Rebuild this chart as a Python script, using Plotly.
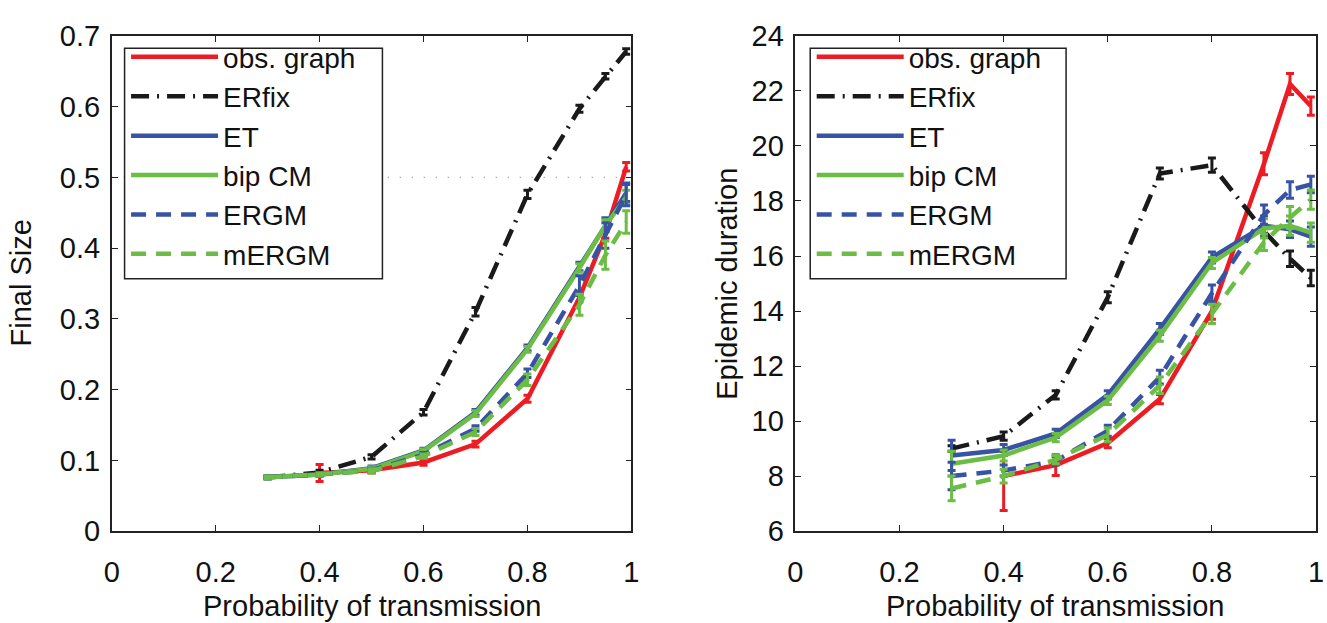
import plotly.graph_objects as go

# ---------------- data ----------------
p_all = [0.3, 0.4, 0.5, 0.6, 0.7, 0.8, 0.9, 0.95, 0.99]
p_obs = [0.4, 0.5, 0.6, 0.7, 0.8, 0.9, 0.95, 0.99]

# Final size (left panel)
fs_obs = [0.082, 0.086, 0.097, 0.123, 0.187, 0.33, 0.42, 0.515]
fs_obs_err = [0.012, 0.004, 0.004, 0.004, 0.005, 0.006, 0.006, 0.006]
fs_erfix = [0.076, 0.083, 0.105, 0.168, 0.31, 0.476, 0.597, 0.643, 0.678]
fs_erfix_err = [0.002, 0.003, 0.003, 0.004, 0.006, 0.006, 0.005, 0.004, 0.004]
fs_et = [0.076, 0.080, 0.089, 0.114, 0.168, 0.259, 0.374, 0.433, 0.478]
fs_et_err = [0.002, 0.002, 0.003, 0.003, 0.004, 0.004, 0.006, 0.010, 0.012]
fs_bip = [0.076, 0.080, 0.088, 0.113, 0.166, 0.257, 0.372, 0.432, 0.472]
fs_bip_err = [0.002, 0.002, 0.003, 0.003, 0.004, 0.004, 0.006, 0.008, 0.010]
fs_ergm = [0.076, 0.080, 0.086, 0.108, 0.145, 0.223, 0.347, 0.418, 0.476]
fs_ergm_err = [0.002, 0.002, 0.003, 0.003, 0.004, 0.006, 0.014, 0.018, 0.016]
fs_mergm = [0.076, 0.080, 0.085, 0.106, 0.140, 0.214, 0.320, 0.390, 0.437]
fs_mergm_err = [0.002, 0.002, 0.003, 0.003, 0.005, 0.008, 0.015, 0.020, 0.016]

# Epidemic duration (right panel)
ed_obs = [8.0, 8.4, 9.2, 10.8, 14.0, 19.35, 22.25, 21.45]
ed_obs_up = [0.9, 0.38, 0.17, 0.17, 0.3, 0.4, 0.38, 0.33]
ed_obs_dn = [1.25, 0.38, 0.17, 0.17, 0.3, 0.4, 0.38, 0.33]
ed_erfix = [9.0, 9.45, 10.95, 14.5, 19.0, 19.3, 16.9, 15.9, 15.2]
ed_erfix_err = [0.1, 0.15, 0.15, 0.2, 0.2, 0.26, 0.2, 0.28, 0.28]
ed_et = [8.75, 8.95, 9.55, 10.95, 13.35, 15.95, 17.1, 16.97, 16.7]
ed_et_err = [0.55, 0.2, 0.15, 0.15, 0.2, 0.2, 0.35, 0.3, 0.35]
ed_bip = [8.45, 8.75, 9.4, 10.75, 13.1, 15.75, 17.0, 17.1, 16.85]
ed_bip_err = [0.45, 0.2, 0.15, 0.15, 0.2, 0.2, 0.35, 0.35, 0.35]
ed_ergm = [8.0, 8.2, 8.55, 9.65, 11.6, 14.65, 17.5, 18.4, 18.6]
ed_ergm_err = [0.5, 0.2, 0.15, 0.2, 0.25, 0.3, 0.35, 0.3, 0.3]
ed_mergm = [7.55, 8.0, 8.6, 9.5, 11.3, 13.9, 16.5, 17.4, 18.05]
ed_mergm_err = [0.45, 0.25, 0.15, 0.25, 0.3, 0.35, 0.3, 0.4, 0.35]

x_ticks = [0, 0.2, 0.4, 0.6, 0.8, 1]
x_ticktext = ["0", "0.2", "0.4", "0.6", "0.8", "1"]
fs_ticks = [0, 0.1, 0.2, 0.3, 0.4, 0.5, 0.6, 0.7]
fs_ticktext = ["0", "0.1", "0.2", "0.3", "0.4", "0.5", "0.6", "0.7"]
ed_ticks = [6, 8, 10, 12, 14, 16, 18, 20, 22, 24]
ed_ticktext = [str(v) for v in ed_ticks]

names = ["obs. graph", "ERfix", "ET", "bip CM", "ERGM", "mERGM"]

# ---------------- styles ----------------
RED = "#ED1C24"
BLACK = "#1A1A1A"
BLUE = "#3853A4"
GREEN = "#6BBD45"
DASH = "15px,10px"
DASHDOT = "18px,8px,2px,8px"
LW = 4.5
FONT = "Liberation Sans, Arial, Helvetica, sans-serif"
AXC = "#222222"
TXT = "#111111"
FS = 29

styles = [
    (RED, "solid"),
    (BLACK, DASHDOT),
    (BLUE, "solid"),
    (GREEN, "solid"),
    (BLUE, DASH),
    (GREEN, DASH),
]

fig = go.Figure()

# reference dotted line at 0.5 (left panel)
fig.add_trace(go.Scatter(x=[0, 0.99], y=[0.5, 0.5], mode="lines",
                         line=dict(color="#7F8FC8", width=1.2, dash="1px,11px"),
                         showlegend=False, hoverinfo="skip", xaxis="x", yaxis="y"))

left_series = [
    (p_obs, fs_obs, fs_obs_err, fs_obs_err),
    (p_all, fs_erfix, fs_erfix_err, fs_erfix_err),
    (p_all, fs_et, fs_et_err, fs_et_err),
    (p_all, fs_bip, fs_bip_err, fs_bip_err),
    (p_all, fs_ergm, fs_ergm_err, fs_ergm_err),
    (p_all, fs_mergm, fs_mergm_err, fs_mergm_err),
]
right_series = [
    (p_obs, ed_obs, ed_obs_up, ed_obs_dn),
    (p_all, ed_erfix, ed_erfix_err, ed_erfix_err),
    (p_all, ed_et, ed_et_err, ed_et_err),
    (p_all, ed_bip, ed_bip_err, ed_bip_err),
    (p_all, ed_ergm, ed_ergm_err, ed_ergm_err),
    (p_all, ed_mergm, ed_mergm_err, ed_mergm_err),
]

for series, xa, ya in ((left_series, "x", "y"), (right_series, "x2", "y2")):
    for (xs, ys, up, dn), (col, dash) in zip(series, styles):
        fig.add_trace(go.Scatter(
            x=xs, y=ys, mode="lines",
            line=dict(color=col, width=LW, dash=dash),
            error_y=dict(type="data", array=up, arrayminus=dn, symmetric=False,
                         color=col, thickness=3, width=4),
            showlegend=False, xaxis=xa, yaxis=ya))

# legend-only traces
for leg, xa, ya in (("legend", "x", "y"), ("legend2", "x2", "y2")):
    for name, (col, dash) in zip(names, styles):
        fig.add_trace(go.Scatter(
            x=[None], y=[None], mode="lines", name=name,
            line=dict(color=col, width=LW, dash=dash),
            legend=leg, xaxis=xa, yaxis=ya))

W, H = 1327, 623
ytop, ybot = 21, 543


def px_x(v):
    return v / W


def px_y(v):
    return 1 - v / H


axis_common = dict(showline=True, linecolor=AXC, linewidth=1.6, mirror="ticks",
                   ticks="inside", ticklen=6, tickwidth=1.2, tickcolor=AXC,
                   showgrid=False, zeroline=False, tickfont=dict(size=FS, color=TXT))

legend_common = dict(bgcolor="rgba(0,0,0,0)", borderwidth=0,
                     font=dict(size=28, color=TXT, family=FONT),
                     itemwidth=87, xanchor="left", yanchor="top",
                     tracegroupgap=0, itemclick=False)

# legend boxes (white frame behind the legend entries)
box_shapes = []
for x0, x1 in ((118, 379), (812, 1071)):
    box_shapes.append(dict(type="rect", xref="paper", yref="paper",
                           x0=px_x(x0), x1=px_x(x1), y0=px_y(277), y1=px_y(34),
                           fillcolor="white", line=dict(color=AXC, width=1.5),
                           layer="above"))

title_font = dict(size=FS, color=TXT)

fig.update_layout(
    width=W, height=H,
    margin=dict(l=0, r=0, t=0, b=0),
    paper_bgcolor="white", plot_bgcolor="white",
    font=dict(family=FONT, size=FS, color=TXT),
    xaxis=dict(domain=[px_x(105), px_x(631)], range=[0, 1], tickvals=x_ticks,
               ticktext=x_ticktext, anchor="y", ticklabelstandoff=14, **axis_common),
    yaxis=dict(domain=[px_y(ybot), px_y(ytop)], range=[0, 0.7], tickvals=fs_ticks,
               ticktext=fs_ticktext, anchor="x", ticklabelstandoff=4, **axis_common),
    xaxis2=dict(domain=[px_x(797), px_x(1324)], range=[0, 1], tickvals=x_ticks,
                ticktext=x_ticktext, anchor="y2", ticklabelstandoff=14, **axis_common),
    yaxis2=dict(domain=[px_y(ybot), px_y(ytop)], range=[6, 24], tickvals=ed_ticks,
                ticktext=ed_ticktext, anchor="x2", ticklabelstandoff=4, **axis_common),
    legend=dict(x=px_x(119.5), y=px_y(17), **legend_common),
    legend2=dict(x=px_x(813.5), y=px_y(17), **legend_common),
    showlegend=True,
    shapes=box_shapes,
    annotations=[
        dict(text="Probability of transmission", x=px_x(368), y=0, yshift=-17,
             xref="paper", yref="paper", showarrow=False, xanchor="center",
             yanchor="bottom", font=title_font),
        dict(text="Probability of transmission", x=px_x(1060), y=0, yshift=-17,
             xref="paper", yref="paper", showarrow=False, xanchor="center",
             yanchor="bottom", font=title_font),
        dict(text="Final Size", x=0, xshift=-5, y=px_y(282), textangle=-90,
             xref="paper", yref="paper", showarrow=False, xanchor="left",
             yanchor="middle", font=title_font),
        dict(text="Epidemic duration", x=px_x(727), y=px_y(282), textangle=-90,
             xref="paper", yref="paper", showarrow=False, xanchor="center",
             yanchor="middle", font=title_font),
    ],
)

fig.write_html("out.html")
